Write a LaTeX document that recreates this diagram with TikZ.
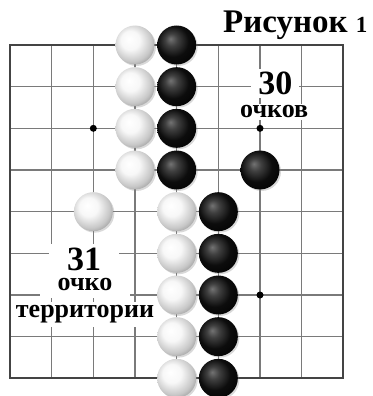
\documentclass[tikz,border=0pt]{standalone}
\usepackage{fontspec}
\setmainfont{Liberation Serif}
\usetikzlibrary{shadows}
\definecolor{gridline}{HTML}{7a7a7a}
\definecolor{frameline}{HTML}{444444}
\pgfdeclareradialshading{whiteshade}{\pgfpoint{-8bp}{8bp}}{color(0bp)=(white); color(12bp)=(white!97!black); color(25bp)=(black!22); color(36bp)=(black!50); color(50bp)=(black!50)}
\pgfdeclareradialshading{blackshade}{\pgfpoint{-8bp}{8bp}}{color(0bp)=(black!55); color(8bp)=(black!75); color(20bp)=(black!95); color(36bp)=(black); color(50bp)=(black)}

\begin{document}
\begin{tikzpicture}[x=41.67pt, y=-41.67pt]
  \tikzstyle{stone}=[circle, minimum size=39pt, inner sep=0pt,
                     drop shadow={shadow xshift=1.5pt, shadow yshift=-1.5pt, opacity=0.3}]
  \tikzstyle{wst}=[stone, shading=whiteshade]
  \tikzstyle{bst}=[stone, shading=blackshade]
  \tikzstyle{num}=[fill=white, anchor=base, inner xsep=7pt, inner ysep=3pt,
                   font=\bfseries\fontsize{34}{34}\selectfont]
  \tikzstyle{word}=[fill=white, anchor=base, inner xsep=4pt, inner ysep=2pt,
                    font=\bfseries\fontsize{26}{26}\selectfont]
  \useasboundingbox (-0.24,-1.08) rectangle (8.688,8.424);
  % board
  \foreach \i in {1,...,7}{
    \draw[gridline, line width=1.3pt] (\i,0) -- (\i,8);
    \draw[gridline, line width=1.3pt] (0,\i) -- (8,\i);
  }
  \draw[frameline, line width=2pt] (0,0) rectangle (8,8);
  \foreach \p in {(2,2),(6,2),(6,6)} \fill \p circle (3.5pt);
  % labels
  \node[anchor=base west, inner sep=0pt, font=\bfseries\fontsize{33}{33}\selectfont]
    (title) at (5.11,-0.29) {Рисунок {\fontsize{23}{23}\selectfont 1}};
  \node[num](n30) at (6.37,1.20){30};
  \node[word](w30) at (6.34,1.75){очков};
  \node[num, inner xsep=18pt, text depth=4pt](n31) at (1.78,5.40){31};
  \node[word, inner xsep=18pt, text depth=5pt](w31) at (1.80,5.90){очко};
  \node[word, inner ysep=4pt](terr) at (1.80,6.55){территории};
  % stones
  \foreach \r in {0,...,3}{
    \node[wst](wtop\r) at (3,\r){};
    \node[bst](btop\r) at (4,\r){};
  }
  \foreach \r in {4,...,8}{
    \node[wst](wlow\r) at (4,\r){};
    \node[bst](blow\r) at (5,\r){};
  }
  \node[bst](bright) at (6,3){};
  \node[wst](wleft) at (2,4){};
\end{tikzpicture}
\end{document}
